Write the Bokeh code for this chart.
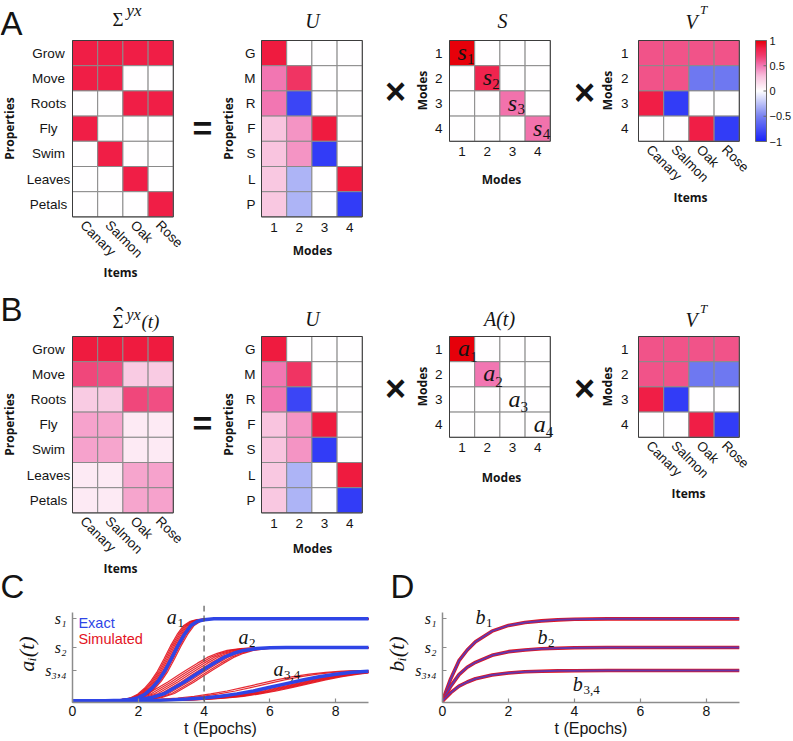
import numpy as np
from bokeh.plotting import figure
from bokeh.models import (ColumnDataSource, Range1d, LinearColorMapper, Label, Span, FixedTicker)
from bokeh.layouts import row, column
from bokeh.transform import transform
from bokeh.core.properties import value
from bokeh.embed import file_html
from bokeh.resources import INLINE

# ---------------- data ----------------
items = ["Canary", "Salmon", "Oak", "Rose"]
properties = ["Grow", "Move", "Roots", "Fly", "Swim", "Leaves", "Petals"]
modes = ["1", "2", "3", "4"]

sigma_yx = [
    [0.85, 0.85, 0.85, 0.85],
    [0.85, 0.85, 0.0, 0.0],
    [0.0, 0.0, 0.85, 0.85],
    [0.85, 0.0, 0.0, 0.0],
    [0.0, 0.85, 0.0, 0.0],
    [0.0, 0.0, 0.85, 0.0],
    [0.0, 0.0, 0.0, 0.85],
]
U_mat = [
    [0.86, 0.0, 0.0, 0.0],
    [0.5, 0.74, 0.0, 0.0],
    [0.5, -0.82, 0.0, 0.0],
    [0.27, 0.42, 0.86, 0.0],
    [0.27, 0.42, -0.86, 0.0],
    [0.25, -0.3, 0.0, 0.86],
    [0.25, -0.3, 0.0, -0.86],
]
S_diag = [1.0, 0.82, 0.52, 0.52]
A_diag = [1.0, 0.5, 0.0, 0.0]
VT_mat = [
    [0.62, 0.62, 0.62, 0.62],
    [0.62, 0.62, -0.55, -0.55],
    [0.85, -0.86, 0.0, 0.0],
    [0.0, 0.0, 0.85, -0.86],
]
sigma_hat = [
    [0.86, 0.86, 0.86, 0.86],
    [0.66, 0.64, 0.24, 0.24],
    [0.24, 0.24, 0.66, 0.64],
    [0.38, 0.37, 0.10, 0.10],
    [0.38, 0.37, 0.10, 0.10],
    [0.10, 0.10, 0.37, 0.38],
    [0.10, 0.10, 0.37, 0.38],
]
cb_ticks = [-1, -0.5, 0, 0.5, 1]
cb_labels = ["\u22121", "\u22120.5", "0", "0.5", "1"]

# panel C / D
x_ticks = [0, 2, 4, 6, 8]
s_levels = [1.0, 0.65, 0.37]
s_labels = ["s\u2081", "s\u2082", "s\u2083,\u2084"]
t_mark = 4

a1_t = [-1, 0, 1.0, 1.5, 1.8, 2.0, 2.2, 2.4, 2.6, 2.8, 3.0, 3.2, 3.4, 3.6, 3.8, 4.0, 4.3, 10]
a1_v = [0, 0, 0.001, 0.008, 0.02, 0.04, 0.08, 0.15, 0.24, 0.36, 0.51, 0.67, 0.81, 0.92, 0.97, 0.99, 1.0, 1.0]
a2_t = [-1, 0, 1.5, 2.0, 2.4, 2.8, 3.1, 3.4, 3.7, 4.0, 4.3, 4.6, 4.9, 5.2, 5.6, 6.0, 6.5, 10]
a2_v = [0, 0, 0.003, 0.015, 0.04, 0.09, 0.16, 0.23, 0.31, 0.385, 0.46, 0.53, 0.58, 0.615, 0.638, 0.647, 0.65, 0.65]
a34_t = [-1, 0, 2.5, 3.0, 3.5, 4.0, 4.5, 5.0, 5.5, 6.0, 6.5, 7.0, 7.5, 8.0, 8.5, 9.0, 9.5, 10]
a34_v = [0, 0, 0.005, 0.012, 0.022, 0.035, 0.055, 0.085, 0.12, 0.165, 0.21, 0.255, 0.295, 0.325, 0.348, 0.362, 0.368, 0.37]
a1_sim_shift = [-0.22, -0.18, -0.14, -0.10, -0.06, 0.06, 0.10]
a2_sim_shift = [-0.5, -0.4, -0.3, -0.2, -0.1, 0.12, 0.22, 0.3]
a34_sim_shift = [-0.8, -0.55, 0.15, 0.3, 0.4, 0.5, 0.6, 0.7]

b_t = [0, 0.25, 0.5, 0.75, 1.0, 1.5, 2.0, 2.5, 3.0, 3.5, 4.0, 5.0, 9.0]
b1_v = [0, 0.27, 0.49, 0.62, 0.72, 0.85, 0.92, 0.955, 0.975, 0.988, 0.995, 1.0, 1.0]
b2_v = [0, 0.18, 0.32, 0.41, 0.47, 0.555, 0.60, 0.62, 0.635, 0.642, 0.647, 0.65, 0.65]
b34_v = [0, 0.10, 0.18, 0.23, 0.27, 0.315, 0.34, 0.355, 0.362, 0.366, 0.368, 0.37, 0.37]

# ---------------- style ----------------
SANS = "Liberation Sans"
SERIF = "Liberation Serif"
BOLD = "Open Sans"
INK = "#141414"
CELL_LINE = "#8a8a8a"
FRAME_LINE = "#3c3c3c"
BLUE = "#2f45e6"
RED = "#e3141e"
AXIS_GRAY = "#8c8c8c"
CELL = 25.2
TICK_PX = 13.5
LETTER_PX = 33

anchors = [(-1.0, (25, 35, 250)), (-0.5, (120, 130, 240)), (0.0, (255, 255, 255)),
           (0.3, (248, 190, 220)), (0.5, (242, 120, 180)), (0.7, (240, 60, 110)),
           (0.85, (240, 30, 70)), (1.0, (230, 0, 10))]


def build_palette(n=256):
    vals = np.linspace(-1, 1, n)
    av = [a[0] for a in anchors]
    out = []
    for v in vals:
        rgb = [int(round(np.interp(v, av, [a[1][k] for a in anchors]))) for k in range(3)]
        out.append("#%02x%02x%02x" % tuple(rgb))
    return out


mapper = LinearColorMapper(palette=build_palette(), low=-1, high=1)


def bare_figure(W, H, x_range, y_range):
    p = figure(width=W, height=H, x_range=x_range, y_range=y_range,
               min_border=0, x_axis_location=None, y_axis_location=None,
               output_backend="svg", toolbar_location=None, tools="")
    p.outline_line_color = None
    p.background_fill_color = "white"
    p.border_fill_color = "white"
    p.grid.visible = False
    return p


class HM:
    """A figure whose frame is the whole canvas; heatmap cells in cell units."""

    def __init__(self, W, H, L, T, mat):
        self.nr, self.nc = len(mat), len(mat[0])
        self.L, self.B = L, T + self.nr * CELL
        p = bare_figure(W, H, Range1d(-L / CELL, (W - L) / CELL),
                        Range1d(-(H - self.B) / CELL, self.B / CELL))
        self.p = p
        xs, ys, vs = [], [], []
        for i in range(self.nr):
            for j in range(self.nc):
                xs.append(j + 0.5)
                ys.append(self.nr - i - 0.5)
                vs.append(mat[i][j])
        p.rect(x="x", y="y", width=1, height=1, source=ColumnDataSource(dict(x=xs, y=ys, v=vs)),
               fill_color=transform("v", mapper), line_color=CELL_LINE, line_width=1)
        p.rect(x=[self.nc / 2], y=[self.nr / 2], width=self.nc, height=self.nr,
               fill_color=None, line_color=FRAME_LINE, line_width=1)

    def fx(self, px):
        return (px - self.L) / CELL

    def fy(self, py):
        return (self.B - py) / CELL

    def put(self, px, py, text, size, font=SANS, style="normal", align="left",
            color=INK, angle=0.0):
        # (px, py): canvas position of the text's vertical middle
        self.p.add_layout(Label(x=self.fx(px), y=self.fy(py), text=text, text_font=font,
                                text_font_size=f"{size}px", text_font_style=style,
                                text_align=align, text_baseline="middle",
                                text_color=color, angle=angle))

    def texts(self, xs, ys, texts, size, align, angle=0.0, font=SANS,
              style="normal", x_offset=0, y_offset=0):
        src = ColumnDataSource(dict(x=xs, y=ys, t=texts))
        self.p.text(x="x", y="y", text="t", source=src, text_font=value(font),
                    text_font_size=f"{size}px", text_font_style=style, text_align=align,
                    text_baseline="middle", angle=angle, text_color=INK,
                    x_offset=x_offset, y_offset=y_offset)

    def row_labels(self, labels, gap=None, center_px=None):
        ys = [self.nr - i - 0.5 for i in range(len(labels))]
        if center_px is not None:
            self.texts([self.fx(center_px)] * len(labels), ys, labels, TICK_PX, "center")
        else:
            self.texts([-gap / CELL] * len(labels), ys, labels, TICK_PX, "right")

    def col_labels(self, labels):
        xs = [j + 0.5 for j in range(len(labels))]
        self.texts(xs, [-10.5 / CELL] * len(labels), labels, TICK_PX, "center")

    def item_labels(self, labels):
        xs = [j + 0.5 - 2.5 / CELL for j in range(len(labels))]
        self.texts(xs, [-6 / CELL] * len(labels), labels, TICK_PX, "left",
                   angle=-np.pi / 4)

    def diag(self, letter, subs, dx, sdx, dy, sdy):
        xs = [j + 0.5 for j in range(len(subs))]
        ys = [self.nr - j - 0.5 for j in range(len(subs))]
        self.texts(xs, ys, [letter] * len(subs), 24, "center",
                   font=SERIF, style="italic", x_offset=dx, y_offset=dy)
        self.texts(xs, ys, list(subs), 15, "left",
                   font=SERIF, x_offset=sdx, y_offset=sdy)


def bold_label(h, px, py, text, angle=0.0):
    h.put(px, py, text, 12, font=BOLD, style="bold", align="center", angle=angle)


S_mat = [[S_diag[i] if i == j else 0.0 for j in range(4)] for i in range(4)]
A_mat = [[A_diag[i] if i == j else 0.0 for j in range(4)] for i in range(4)]
prop_short = [s[0] for s in properties]

# ================= Row A =================
HA = 290
TA = 40
a1 = HM(186, HA, 72, TA, sigma_yx)
a1.put(0, 22.5, "A", LETTER_PX)
a1.put(112, 19, "\u03a3", 19, font=SERIF)
a1.put(126, 9.5, "yx", 17, font=SERIF, style="italic")
a1.row_labels(properties, center_px=48)
a1.item_labels(items)
bold_label(a1, 9, TA + 88, "Properties", angle=np.pi / 2)
bold_label(a1, 120, 272, "Items")

a2 = HM(194, HA, 75, TA, U_mat)
a2.put(16, 127, "=", 34, style="bold", align="center")
a2.put(126, 20, "U", 20, font=SERIF, style="italic", align="center")
a2.row_labels(prop_short, gap=6)
a2.col_labels(modes)
bold_label(a2, 42, TA + 88, "Properties", angle=np.pi / 2)
bold_label(a2, 126, 250, "Modes")

a3 = HM(195, HA, 69, TA, S_mat)
a3.put(15, 91, "\u00d7", 36, style="bold", align="center")
a3.put(122, 20, "S", 20, font=SERIF, style="italic", align="center")
a3.row_labels(modes, gap=7)
a3.col_labels(modes)
a3.diag("s", modes, 0, 5, -1, 5.5)
bold_label(a3, 42, TA + 50, "Modes", angle=np.pi / 2)
bold_label(a3, 121, 179, "Modes")

a4 = HM(177, HA, 63, TA, VT_mat)
a4.put(9, 92, "\u00d7", 36, style="bold", align="center")
a4.put(110, 21, "V", 20, font=SERIF, style="italic")
a4.put(124.5, 9, "T", 13, font=SERIF, style="italic")
a4.row_labels(modes, gap=10)
a4.item_labels(items)
bold_label(a4, 32, TA + 50, "Modes", angle=np.pi / 2)
bold_label(a4, 115, 197, "Items")

# colour bar: frame = whole canvas, values -1..1 mapped onto the bar height
CB_W = 41
CB_TOP, CB_BOT = 40, 141
unit = (CB_BOT - CB_TOP) / 2.0
cb = bare_figure(CB_W, HA, Range1d(0, CB_W),
                 Range1d(-1 - (HA - CB_BOT) / unit, 1 + CB_TOP / unit))
grad = np.linspace(-1, 1, 256).reshape(256, 1)
cb.image(image=[grad], x=3, y=-1, dw=11, dh=2, color_mapper=mapper)
cb.rect(x=[8.5], y=[0], width=11, height=2, fill_color=None, line_color="#6a6a6a",
        line_width=1)
cb.segment(x0=[11] * len(cb_ticks), x1=[14] * len(cb_ticks), y0=cb_ticks, y1=cb_ticks,
           line_color="#6a6a6a", line_width=1)
cb.text(x=[17] * len(cb_ticks), y=cb_ticks, text=cb_labels, text_font=value(SANS),
        text_font_size="11px", text_align="left", text_baseline="middle", text_color=INK)

rowA = row(a1.p, a2.p, a3.p, a4.p, cb)

# ================= Row B =================
HB = 315
TB = 46
b1 = HM(186, HB, 72, TB, sigma_hat)
b1.put(0, 19, "B", LETTER_PX)
b1.put(0, 296, "C", LETTER_PX)
b1.put(112, 31, "\u03a3", 19, font=SERIF)
b1.put(118.5, 26.3, "\u02c6", 26, font=SERIF, align="center")
b1.put(126, 24, "yx", 16, font=SERIF, style="italic")
b1.put(141, 31, "(t)", 19, font=SERIF, style="italic")
b1.row_labels(properties, center_px=48)
b1.item_labels(items)
bold_label(b1, 9, TB + 88, "Properties", angle=np.pi / 2)
bold_label(b1, 120, 278, "Items")

b2 = HM(194, HB, 75, TB, U_mat)
b2.put(16, 132.5, "=", 34, style="bold", align="center")
b2.put(126, 28.5, "U", 20, font=SERIF, style="italic", align="center")
b2.row_labels(prop_short, gap=6)
b2.col_labels(modes)
bold_label(b2, 42, TB + 88, "Properties", angle=np.pi / 2)
bold_label(b2, 126, 258, "Modes")

b3 = HM(195, HB, 69, TB, A_mat)
b3.put(15, 98, "\u00d7", 36, style="bold", align="center")
b3.put(119, 28.5, "A(t)", 20, font=SERIF, style="italic", align="center")
b3.put(10, 296, "D", LETTER_PX)
b3.row_labels(modes, gap=7)
b3.col_labels(modes)
b3.diag("a", modes, 2, 8, -1, 7.5)
bold_label(b3, 42, TB + 50, "Modes", angle=np.pi / 2)
bold_label(b3, 121, 187, "Modes")

b4 = HM(218, HB, 63, TB, VT_mat)
b4.put(9, 98, "\u00d7", 36, style="bold", align="center")
b4.put(110, 29, "V", 20, font=SERIF, style="italic")
b4.put(124.5, 18, "T", 13, font=SERIF, style="italic")
b4.row_labels(modes, gap=10)
b4.item_labels(items)
bold_label(b4, 32, TB + 50, "Modes", angle=np.pi / 2)
bold_label(b4, 113, 203, "Items")

rowB = row(b1.p, b2.p, b3.p, b4.p)

# ================= Row C / D =================
HC = 136
FRAME_H = 97
PX_PER_UNIT = 82.0
Y0 = -0.02


def curve_fig(width, left, right, ylabel):
    p = figure(width=width, height=HC, x_range=Range1d(0, 9),
               y_range=Range1d(Y0, Y0 + FRAME_H / PX_PER_UNIT),
               min_border_left=left, min_border_right=right, min_border_top=0,
               min_border_bottom=HC - FRAME_H, output_backend="svg",
               toolbar_location=None, tools="")
    p.outline_line_color = None
    p.grid.visible = False
    p.background_fill_color = "white"
    p.border_fill_color = "white"
    xa = p.xaxis[0]
    xa.ticker = FixedTicker(ticks=x_ticks)
    ya = p.yaxis[0]
    ya.ticker = FixedTicker(ticks=s_levels)
    ya.major_label_overrides = {k: v for k, v in zip(s_levels, s_labels)}
    ya.bounds = (Y0, 1.075)
    for ax in (xa, ya):
        ax.axis_line_color = AXIS_GRAY
        ax.axis_line_width = 1.5
        ax.major_tick_in = 4
        ax.major_tick_out = 0
        ax.major_tick_line_color = AXIS_GRAY
        ax.major_tick_line_width = 1.2
        ax.minor_tick_line_color = None
        ax.major_label_text_color = INK
    xa.major_label_text_font = SANS
    xa.major_label_text_font_size = "14px"
    xa.major_label_standoff = 3
    xa.axis_label = "t (Epochs)"
    xa.axis_label_text_font = SANS
    xa.axis_label_text_font_style = "normal"
    xa.axis_label_text_font_size = "16px"
    xa.axis_label_text_color = INK
    xa.axis_label_standoff = 1
    ya.major_label_text_font = SERIF
    ya.major_label_text_font_style = "italic"
    ya.major_label_text_font_size = "16px"
    ya.major_label_standoff = 6
    ya.axis_label = ylabel
    ya.axis_label_text_font = SERIF
    ya.axis_label_text_font_style = "italic"
    ya.axis_label_text_font_size = "22px"
    ya.axis_label_text_color = INK
    ya.axis_label_standoff = 3
    return p


def dlabel(p, x, y_base, text, size, font=SERIF, style="italic", align="center", color=INK):
    # y_base: data value of the text baseline; drawn with a middle anchor
    p.add_layout(Label(x=x, y=y_base + 0.34 * size / PX_PER_UNIT, text=text, text_font=font,
                       text_font_size=f"{size}px", text_font_style=style,
                       text_align=align, text_baseline="middle", text_color=color))


pc = curve_fig(380, 72, 12, "a\u1d62(t)")
for sh in a1_sim_shift:
    pc.line([t + sh for t in a1_t], a1_v, line_color=RED, line_width=1.2, line_alpha=0.9)
for sh in a2_sim_shift:
    pc.line([t + sh for t in a2_t], a2_v, line_color=RED, line_width=1.2, line_alpha=0.9)
for sh in a34_sim_shift:
    pc.line([t + sh for t in a34_t], a34_v, line_color=RED, line_width=1.2, line_alpha=0.9)
for tt, vv in ((a34_t, a34_v), (a2_t, a2_v), (a1_t, a1_v)):
    pc.line(tt, vv, line_color=BLUE, line_width=3.5)
pc.add_layout(Span(location=t_mark, dimension="height", line_color="#555555",
                   line_dash="6 4", line_width=1.2))
dlabel(pc, 0.18, 0.895, "Exact", 14.5, font=SANS, style="normal", align="left", color=BLUE)
dlabel(pc, 0.18, 0.70, "Simulated", 14.5, font=SANS, style="normal", align="left", color=RED)
for (tx, ty_, sub) in ((3.02, 0.94, "1"), (5.2, 0.70, "2"), (6.26, 0.31, "3,4")):
    dlabel(pc, tx, ty_, "a", 20)
    dlabel(pc, tx + 0.17, ty_ - 0.05, sub, 13, style="normal", align="left")

pd_ = curve_fig(413, 62, 54, "b\u1d62(t)")
for vv in (b1_v, b2_v, b34_v):
    pd_.line(b_t, vv, line_color=RED, line_width=3.6)
    pd_.line(b_t, vv, line_color=BLUE, line_width=2.0, line_alpha=0.7)
for (tx, ty_, sub) in ((1.15, 0.94, "1"), (3.03, 0.70, "2"), (4.1, 0.126, "3,4")):
    dlabel(pd_, tx, ty_, "b", 20)
    dlabel(pd_, tx + 0.17, ty_ - 0.05, sub, 13, style="normal", align="left")

rowC = row(pc, pd_)
layout = column(rowA, rowB, rowC)

open("out.html", "w").write(file_html(layout, INLINE))
